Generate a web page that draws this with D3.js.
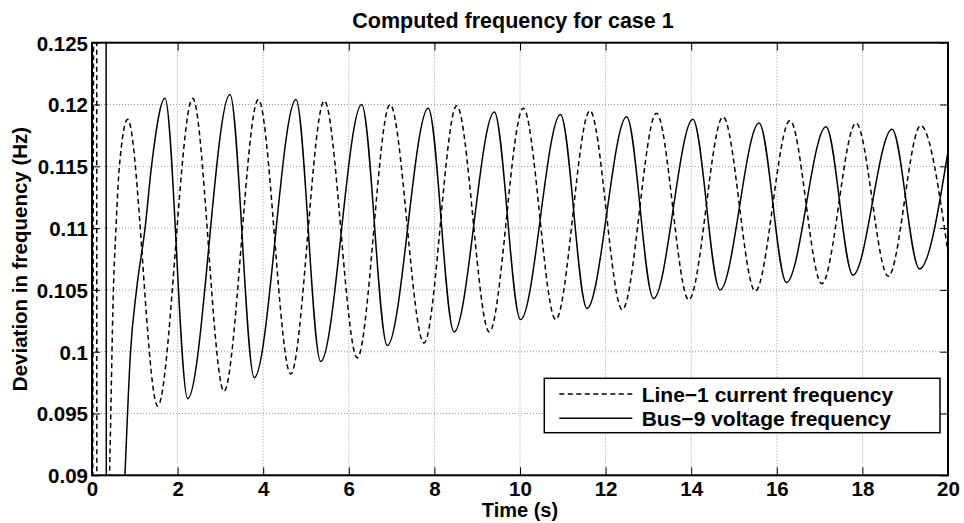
<!DOCTYPE html>
<html>
<head>
<meta charset="utf-8">
<script src="https://cdn.jsdelivr.net/npm/d3@7"></script>
<style>
  body { margin: 0; background: #fff; }
  svg text { font-family: "Liberation Sans", Arial, Helvetica, sans-serif; font-weight: bold; fill: #000; }
</style>
</head>
<body>
<div id="chart"></div>
<script>
// Data (time in s, deviation in Hz)
var lineTimes  = [0, 0.10, 0.12, 0.25, 0.41, 0.50, 0.56, 0.64, 0.834, 1.535, 2.353, 3.084, 3.886, 4.643, 5.428, 6.199, 6.963, 7.757, 8.521, 9.283, 10.077, 10.836, 11.633, 12.390, 13.189, 13.944, 14.745, 15.498, 16.308, 17.051, 17.850, 18.605, 19.362, 20];
var lineValues = [0.05, 0.20, 0.05, 0.07, 0.090, 0.105, 0.110, 0.115, 0.1188, 0.0956, 0.1205, 0.0968, 0.1204, 0.0982, 0.1203, 0.0995, 0.1200, 0.1007, 0.1199, 0.1016, 0.1197, 0.1026, 0.1195, 0.1034, 0.1193, 0.1042, 0.1190, 0.1049, 0.1187, 0.1055, 0.1185, 0.1061, 0.1183, 0.1080];

var busTimes  = [0, 0.32, 0.34, 0.55, 0.77, 0.90, 1.04, 1.24, 1.39, 1.706, 2.236, 3.224, 3.792, 4.766, 5.343, 6.301, 6.900, 7.857, 8.458, 9.400, 10.012, 10.946, 11.565, 12.493, 13.119, 14.040, 14.673, 15.586, 16.227, 17.150, 17.780, 18.692, 19.334, 20];
var busValues = [0.20, 0.20, 0.05, 0.07, 0.090, 0.100, 0.105, 0.110, 0.115, 0.1205, 0.0962, 0.1208, 0.0979, 0.1204, 0.0992, 0.1200, 0.1005, 0.1197, 0.1016, 0.1194, 0.1026, 0.1192, 0.1035, 0.1190, 0.1043, 0.1188, 0.1050, 0.1185, 0.1056, 0.1182, 0.1062, 0.1180, 0.1067, 0.1162];

var xTicks = [0, 2, 4, 6, 8, 10, 12, 14, 16, 18, 20];
var yTicks = [0.09, 0.095, 0.1, 0.105, 0.11, 0.115, 0.12, 0.125];
var yTickLabels = ["0.09", "0.095", "0.1", "0.105", "0.11", "0.115", "0.12", "0.125"];
var seriesNames = ["Line\u22121 current frequency", "Bus\u22129 voltage frequency"];

var svgWidth = 964;
var svgHeight = 523;
var margin = { top: 42.7, right: 16, bottom: 47.7, left: 92 };
var width = svgWidth - margin.left - margin.right;
var height = svgHeight - margin.top - margin.bottom;

var svg = d3.select("#chart")
  .append("svg")
  .attr("width", svgWidth)
  .attr("height", svgHeight);

var chartGroup = svg.append("g")
  .attr("transform", `translate(${margin.left}, ${margin.top})`);

var xScale = d3.scaleLinear().domain([0, 20]).range([0, width]);
var yScale = d3.scaleLinear().domain([0.09, 0.125]).range([height, 0]);

svg.append("defs").append("clipPath")
  .attr("id", "plotclip")
  .append("rect")
  .attr("width", width)
  .attr("height", height);

// dotted grid
chartGroup.append("g")
  .selectAll("line")
  .data(xTicks.slice(1, -1))
  .enter()
  .append("line")
  .attr("x1", d => xScale(d)).attr("x2", d => xScale(d))
  .attr("y1", 0).attr("y2", height)
  .attr("stroke", "#999")
  .attr("stroke-dasharray", "1,2");

chartGroup.append("g")
  .selectAll("line")
  .data(yTicks.slice(1, -1))
  .enter()
  .append("line")
  .attr("x1", 0).attr("x2", width)
  .attr("y1", d => yScale(d)).attr("y2", d => yScale(d))
  .attr("stroke", "#999")
  .attr("stroke-dasharray", "1,2");

// the two series
var line = d3.line()
  .x(d => xScale(d[0]))
  .y(d => yScale(d[1]))
  .curve(d3.curveMonotoneX);

var plot = chartGroup.append("g").attr("clip-path", "url(#plotclip)");

plot.append("path")
  .datum(d3.zip(lineTimes, lineValues))
  .attr("d", line)
  .attr("fill", "none")
  .attr("stroke", "#000")
  .attr("stroke-width", 1.5)
  .attr("stroke-dasharray", "5,3.5");

plot.append("path")
  .datum(d3.zip(busTimes, busValues))
  .attr("d", line)
  .attr("fill", "none")
  .attr("stroke", "#000")
  .attr("stroke-width", 1.5);

// axes, ticks inward on all four sides
var bottomAxis = d3.axisBottom(xScale).tickValues(xTicks).tickSize(-8).tickFormat(d3.format("d"));
var topAxis = d3.axisTop(xScale).tickValues(xTicks).tickSize(-8).tickFormat("");
var leftAxis = d3.axisLeft(yScale).tickValues(yTicks).tickSize(-8).tickPadding(4)
  .tickFormat((d, i) => yTickLabels[i]);
var rightAxis = d3.axisRight(yScale).tickValues(yTicks).tickSize(-8).tickFormat("");

var xAxis = chartGroup.append("g")
  .attr("transform", "translate(0," + height + ")")
  .call(bottomAxis);
chartGroup.append("g").call(topAxis);
var yAxis = chartGroup.append("g").call(leftAxis);
chartGroup.append("g").attr("transform", "translate(" + width + ",0)").call(rightAxis);

chartGroup.selectAll(".domain").remove();
chartGroup.selectAll(".tick line").attr("stroke", "#000").attr("stroke-width", 1);
chartGroup.selectAll(".tick text").attr("font-size", 20.5).attr("fill", "#000")
  .style("font-family", "'Liberation Sans', Arial, sans-serif");
xAxis.selectAll(".tick text").attr("y", 21).attr("dy", null);
yAxis.selectAll(".tick text").attr("dy", "0.36em");

chartGroup.append("rect")
  .attr("width", width)
  .attr("height", height)
  .attr("fill", "none")
  .attr("stroke", "#000")
  .attr("stroke-width", 2);

// legend
var legend = chartGroup.append("g")
  .attr("transform", "translate(" + (544.3 - margin.left) + "," + (378.3 - margin.top) + ")");
legend.append("rect")
  .attr("width", 395.7)
  .attr("height", 54.4)
  .attr("fill", "#fff")
  .attr("stroke", "#000")
  .attr("stroke-width", 1.5);
legend.selectAll("line")
  .data(seriesNames)
  .enter()
  .append("line")
  .attr("x1", 15).attr("x2", 88)
  .attr("y1", (d, i) => 15.7 + i * 24.3)
  .attr("y2", (d, i) => 15.7 + i * 24.3)
  .attr("stroke", "#000")
  .attr("stroke-width", 1.5)
  .attr("stroke-dasharray", (d, i) => i === 0 ? "5,3.5" : null);
legend.selectAll("text")
  .data(seriesNames)
  .enter()
  .append("text")
  .attr("x", 97.4)
  .attr("y", (d, i) => 23.4 + i * 24.8)
  .attr("font-size", 21)
  .text(d => d);

// title and axis labels
svg.append("text")
  .attr("x", 513)
  .attr("y", 28)
  .attr("text-anchor", "middle")
  .attr("font-size", 21.5)
  .text("Computed frequency for case 1");

svg.append("text")
  .attr("x", margin.left + width / 2)
  .attr("y", 517)
  .attr("text-anchor", "middle")
  .attr("font-size", 20)
  .text("Time (s)");

svg.append("text")
  .attr("transform", "translate(26.7," + (margin.top + height / 2) + ") rotate(-90)")
  .attr("text-anchor", "middle")
  .attr("font-size", 20.5)
  .text("Deviation in frequency (Hz)");
</script>
</body>
</html>
